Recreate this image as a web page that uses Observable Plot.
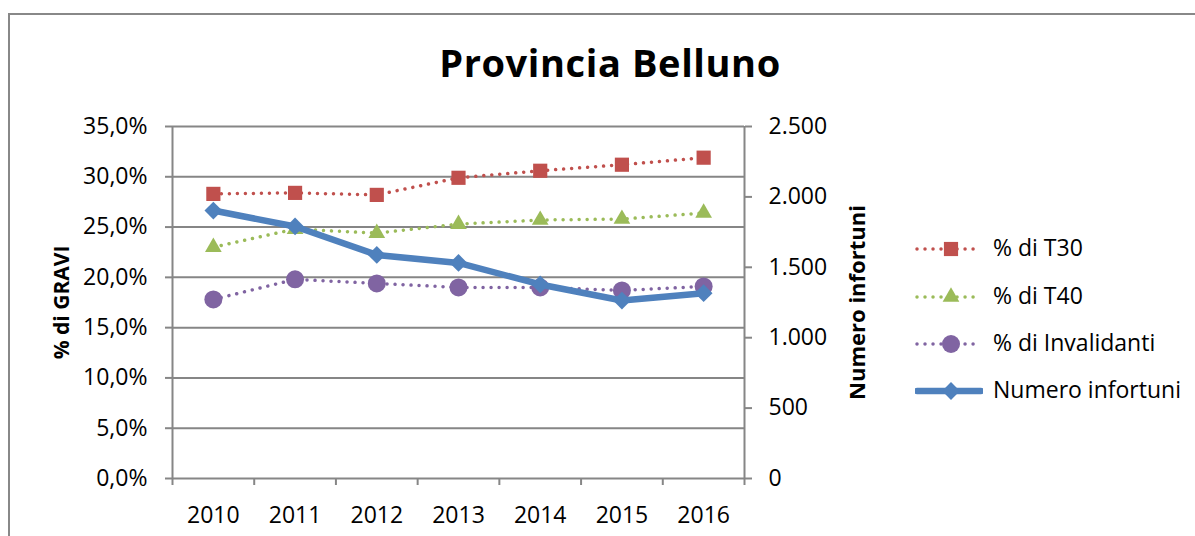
<!DOCTYPE html>
<html>
<head>
<meta charset="utf-8">
<script src="https://cdn.jsdelivr.net/npm/d3@7"></script>
<script src="https://cdn.jsdelivr.net/npm/@observablehq/plot@0.6"></script>
<style>
  html, body { margin: 0; padding: 0; background: #fff; overflow: hidden; }
  #wrap { position: relative; width: 1195px; height: 536px; font-family: "Open Sans", sans-serif; }
  #frame { position: absolute; left: 8px; top: 13px; width: 1300px; height: 700px; border: 2px solid #888; box-sizing: border-box; }
  #title { position: absolute; left: 0; top: 44px; width: 1220px; text-align: center; font: bold 38px/36px "Open Sans", sans-serif; letter-spacing: 0.6px; color: #000; }
  #chart { position: absolute; left: 0; top: 0; }
  #legend { position: absolute; left: 915px; top: 0; }
  .row { position: absolute; left: 0; display: flex; align-items: center; height: 24px; white-space: nowrap; font: 23px/24px "Open Sans", sans-serif; color: #000; }
  .row svg { margin-right: 10px; }
  .row span { position: relative; top: -2px; }
</style>
</head>
<body>
<div id="wrap">
  <div id="frame"></div>
  <div id="chart"></div>
  <div id="title"></div>
  <div id="legend"></div>
</div>
<script>
// ---- data ----
const years = [2010, 2011, 2012, 2013, 2014, 2015, 2016];
const t30 = [28.3, 28.4, 28.2, 29.9, 30.6, 31.2, 31.9];
const t40 = [23.0, 24.8, 24.4, 25.3, 25.7, 25.8, 26.4];
const invalidanti = [17.8, 19.8, 19.4, 19.0, 19.0, 18.7, 19.1];
const infortuni = [1903, 1790, 1588, 1531, 1378, 1264, 1316];
const pctTicks = [0, 5, 10, 15, 20, 25, 30, 35];
const numTicks = [0, 500, 1000, 1500, 2000, 2500];
const seriesNames = ["% di T30", "% di T40", "% di Invalidanti", "Numero infortuni"];
const titleText = "Provincia Belluno";
const leftTitle = "% di GRAVI";
const rightTitle = "Numero infortuni";

// ---- helpers ----
const loc = d3.formatLocale({decimal: ",", thousands: ".", grouping: [3], currency: ["€", ""]});
const pctFmt = v => loc.format(".1f")(v) + "%";
const numFmt = loc.format(",d");
const ratio = 35 / 2500; // secondary axis mapping
const xDomain = [years[0] - 0.5, years[years.length - 1] + 0.5];
const xBounds = d3.range(years.length + 1).map(i => xDomain[0] + i);

const rows = years.map((year, i) => ({year, t30: t30[i], t40: t40[i], inv: invalidanti[i], inf: infortuni[i]}));

const grid = "#868686";
const colors = ["#C0504D", "#9BBB59", "#8064A2", "#4F81BD"];
const symbols = ["square", "triangle", "circle", "diamond2"];
const radii = [8, 6.2, 9, 8];
const dotted = {strokeWidth: 3.5, strokeDasharray: "0.01 8", strokeLinecap: "round"};

document.getElementById("title").textContent = titleText;

const chart = Plot.plot({
  width: 1195,
  height: 536,
  marginLeft: 172,
  marginRight: 451,
  marginTop: 126,
  marginBottom: 58,
  x: {type: "linear", domain: xDomain},
  y: {domain: [0, 35]},
  style: {fontFamily: "'Open Sans', sans-serif", fontSize: "23px", color: "#000", background: "transparent", overflow: "visible"},
  marks: [
    Plot.ruleY(pctTicks, {stroke: grid, strokeWidth: 2}),
    Plot.ruleX(xDomain, {stroke: grid, strokeWidth: 2}),
    Plot.axisY(pctTicks, {anchor: "left", tickFormat: pctFmt, tickSize: 7, tickPadding: 18, stroke: grid, strokeWidth: 2, label: null, fontSize: 23}),
    Plot.axisY(numTicks.map(v => v * ratio), {anchor: "right", tickFormat: v => numFmt(Math.round(v / ratio)), tickSize: 7, tickPadding: 17, stroke: grid, strokeWidth: 2, label: null, fontSize: 23}),
    Plot.axisX(years, {tickSize: 0, tickPadding: 28, tickFormat: d => String(d), label: null, fontSize: 23}),
    Plot.axisX(xBounds, {tickSize: 7, tickFormat: () => "", stroke: grid, strokeWidth: 2, label: null}),
    Plot.text([leftTitle], {frameAnchor: "left", dx: -110, rotate: -90, textAnchor: "middle", fontWeight: "bold", fontSize: 21}),
    Plot.text([rightTitle], {frameAnchor: "right", dx: 113, rotate: -90, textAnchor: "middle", fontWeight: "bold", fontSize: 22}),
    // % di T30
    Plot.line(rows, {x: "year", y: "t30", stroke: colors[0], ...dotted}),
    Plot.dot(rows, {x: "year", y: "t30", symbol: symbols[0], r: radii[0], fill: colors[0], stroke: "none"}),
    // % di T40
    Plot.line(rows, {x: "year", y: "t40", stroke: colors[1], ...dotted}),
    Plot.dot(rows, {x: "year", y: "t40", symbol: symbols[1], r: radii[1], fill: colors[1], stroke: "none"}),
    // % di Invalidanti
    Plot.line(rows, {x: "year", y: "inv", stroke: colors[2], ...dotted}),
    Plot.dot(rows, {x: "year", y: "inv", symbol: symbols[2], r: radii[2], fill: colors[2], stroke: "none"}),
    // Numero infortuni (secondary axis)
    Plot.line(rows, {x: "year", y: d => d.inf * ratio, stroke: colors[3], strokeWidth: 6.5, strokeLinejoin: "round", strokeLinecap: "round"}),
    Plot.dot(rows, {x: "year", y: d => d.inf * ratio, symbol: symbols[3], r: radii[3], fill: colors[3], stroke: "none"})
  ]
});
document.getElementById("chart").appendChild(chart);

// ---- legend ----
const d3sym = {square: d3.symbolSquare, triangle: d3.symbolTriangle, circle: d3.symbolCircle, diamond2: d3.symbolDiamond2};
const rowCenters = [249, 297, 344, 391];
const legend = d3.select("#legend");
seriesNames.forEach((name, i) => {
  const row = legend.append("div").attr("class", "row").style("top", (rowCenters[i] - 12) + "px");
  const svg = row.append("svg").attr("width", 68).attr("height", 24);
  const line = svg.append("line").attr("x1", 2).attr("x2", 66).attr("y1", 12).attr("y2", 12)
    .attr("stroke", colors[i]).attr("stroke-linecap", "round");
  if (i < 3) line.attr("stroke-width", 3.5).attr("stroke-dasharray", "0.01 8");
  else line.attr("stroke-width", 6.5);
  svg.append("path").attr("transform", "translate(36,12)")
    .attr("d", d3.symbol(d3sym[symbols[i]], Math.PI * radii[i] * radii[i])())
    .attr("fill", colors[i]);
  row.append("span").text(name);
});
</script>
</body>
</html>
